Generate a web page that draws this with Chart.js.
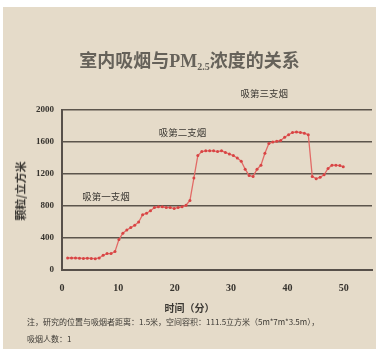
<!DOCTYPE html>
<html>
<head>
<meta charset="utf-8">
<script src="https://cdn.jsdelivr.net/npm/chart.js@4/dist/chart.umd.min.js"></script>
<style>
  html, body { margin: 0; padding: 0; background: #ffffff; }
  body { width: 379px; height: 349px; position: relative; overflow: hidden; }
  #paper { position: absolute; left: 3px; top: 7px; width: 373px; height: 342px; background: #e5dbc9; }
  #chart { position: absolute; left: 0; top: 0; }
  .txt { position: absolute; color: #3b3833; font-family: "Noto Sans CJK SC", sans-serif; white-space: nowrap; }
  #title { left: 0; width: 379px; top: 46px; text-align: center; font-family: "Liberation Serif", "Noto Sans CJK SC", serif; font-size: 18px; font-weight: bold; color: #66625a; }
  #title sub { font-size: 10px; vertical-align: -3px; }
  #xtitle { left: 0; width: 379px; top: 300px; text-align: center; font-size: 10px; font-weight: bold; }
  #ytitle { left: 20px; top: 191px; font-size: 11px; font-weight: bold; transform: translate(-50%, -50%) rotate(-90deg); }
  #note1 { left: 27px; top: 316px; font-size: 8px; }
  #note2 { left: 27px; top: 333px; font-size: 8px; }
</style>
</head>
<body>
<div id="paper"></div>
<canvas id="chart" width="379" height="349"></canvas>
<div class="txt" id="title">室内吸烟与PM<sub>2.5</sub>浓度的关系</div>
<div class="txt" id="ytitle">颗粒/立方米</div>
<div class="txt" id="xtitle">时间（分）</div>
<div class="txt" id="note1">注，研究的位置与吸烟者距离：1.5米，空间容积：111.5立方米（5m*7m*3.5m），</div>
<div class="txt" id="note2">吸烟人数：1</div>
<script>
// Time of each reading (minutes)
const minutes = [1.0, 1.7, 2.4, 3.1, 3.8, 4.5, 5.2, 5.9, 6.6, 7.3, 8.0, 8.7, 9.4,
  10.1, 10.8, 11.5, 12.2, 12.9, 13.6, 14.3, 15.0, 15.7, 16.4, 17.1, 17.8, 18.5,
  19.2, 19.9, 20.6, 21.3, 22.0, 22.7, 23.4, 24.1, 24.8, 25.5, 26.2, 26.9, 27.6,
  28.3, 29.0, 29.7, 30.4, 31.1, 31.8, 32.5, 33.2, 33.9, 34.6, 35.3, 36.0, 36.7,
  37.4, 38.1, 38.8, 39.5, 40.2, 40.9, 41.6, 42.3, 43.0, 43.7, 44.4, 45.1, 45.8,
  46.5, 47.2, 47.9, 48.6, 49.3, 49.9];
// Particle count per cubic metre at each reading
const particles = [150, 150, 150, 148, 145, 148, 145, 142, 150, 185, 205, 205, 230,
  380, 460, 500, 530, 560, 600, 690, 710, 740, 780, 790, 790, 780,
  780, 770, 780, 790, 810, 870, 1150, 1430, 1480, 1490, 1490, 1490, 1480,
  1490, 1470, 1450, 1430, 1400, 1360, 1260, 1180, 1170, 1260, 1310, 1460, 1580,
  1600, 1610, 1620, 1660, 1690, 1720, 1725, 1720, 1710, 1690, 1170, 1140, 1160,
  1190, 1270, 1310, 1310, 1305, 1290];
// Axis ticks
const xTicks = [0, 10, 20, 30, 40, 50];
const yTicks = [0, 400, 800, 1200, 1600, 2000];
// Cigarette markers: label, minute, level
const noteText = ['吸第一支烟', '吸第二支烟', '吸第三支烟'];
const noteMinute = [7.8, 21.4, 35.9];
const noteLevel = [925, 1725, 2210];

const notesPlugin = {
  id: 'smokeNotes',
  afterDatasetsDraw(chart) {
    const { ctx, scales } = chart;
    ctx.save();
    ctx.font = '9.5px "Noto Sans CJK SC", sans-serif';
    ctx.fillStyle = '#3b3833';
    ctx.textAlign = 'center';
    ctx.textBaseline = 'middle';
    noteText.forEach((t, i) => {
      ctx.fillText(t, scales.x.getPixelForValue(noteMinute[i]), scales.y.getPixelForValue(noteLevel[i]));
    });
    ctx.restore();
  }
};

new Chart(document.getElementById('chart'), {
  type: 'line',
  data: {
    datasets: [{
      data: minutes.map((t, i) => ({ x: t, y: particles[i] })),
      borderColor: '#e26a66',
      borderWidth: 1.3,
      pointRadius: 1.5,
      pointBackgroundColor: '#d84444',
      pointBorderWidth: 0,
      tension: 0
    }]
  },
  options: {
    responsive: false,
    animation: false,
    layout: { padding: { top: 110, right: 7, left: 0, bottom: 0 } },
    plugins: { legend: { display: false }, tooltip: { enabled: false } },
    scales: {
      x: {
        type: 'linear', min: 0, max: 55,
        afterFit(s) { s.height = 79; },
        afterBuildTicks(s) { s.ticks = xTicks.map(v => ({ value: v })); },
        ticks: { padding: 12, color: '#36332e', callback: v => String(v), font: { family: 'Liberation Serif', size: 10, weight: 'bold' } },
        grid: { drawOnChartArea: false, drawTicks: false },
        border: { color: '#57504a', width: 2 }
      },
      y: {
        min: 0, max: 2000,
        afterFit(s) { s.width = 62; },
        afterBuildTicks(s) { s.ticks = yTicks.map(v => ({ value: v })); },
        ticks: { padding: 8, color: '#36332e', callback: v => String(v), font: { family: 'Liberation Serif', size: 9, weight: 'bold' } },
        grid: { color: '#5c554c', lineWidth: 1.6, drawTicks: false },
        border: { color: '#57504a', width: 2 }
      }
    }
  },
  plugins: [notesPlugin]
});
</script>
</body>
</html>
